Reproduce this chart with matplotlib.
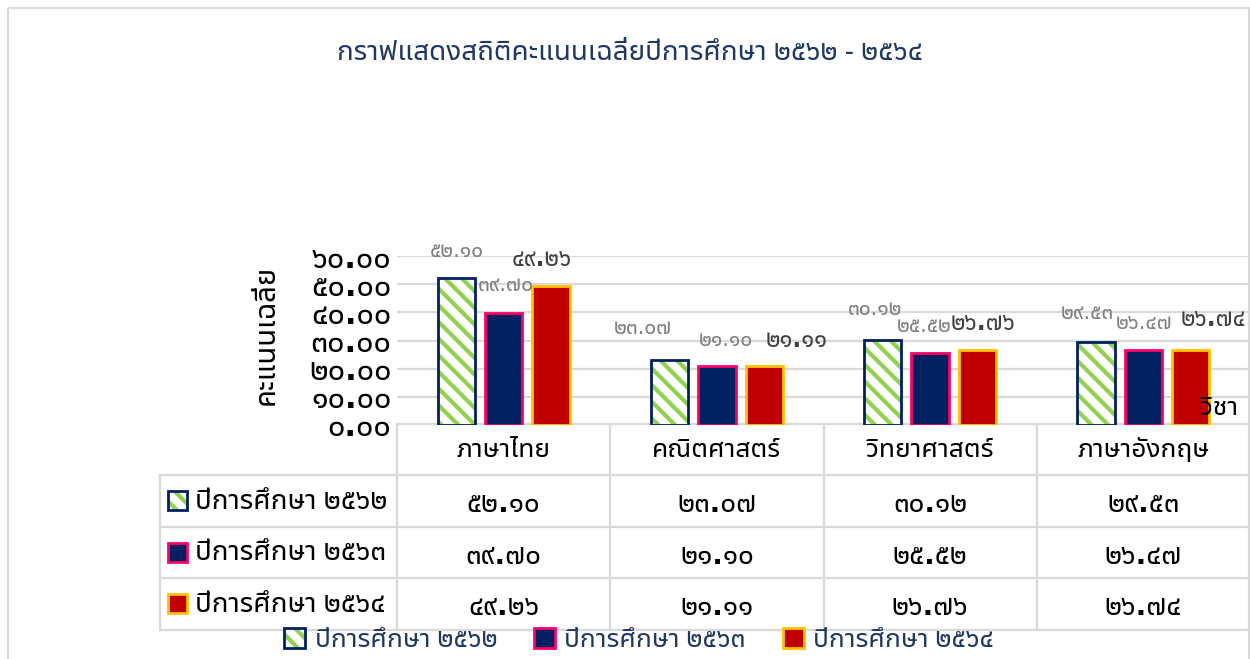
import matplotlib
matplotlib.use("Agg")
import matplotlib.pyplot as plt
from matplotlib.patches import Patch, Rectangle
import numpy as np

plt.rcParams['font.family'] = ['Noto Sans Thai UI', 'DejaVu Sans']
plt.rcParams['hatch.linewidth'] = 3.0

# subjects and yearly averages
subjects = ['ภาษาไทย', 'คณิตศาสตร์', 'วิทยาศาสตร์', 'ภาษาอังกฤษ']
years = ['ปีการศึกษา ๒๕๖๒', 'ปีการศึกษา ๒๕๖๓', 'ปีการศึกษา ๒๕๖๔']
score_2562 = [52.10, 23.07, 30.12, 29.53]
score_2563 = [39.70, 21.10, 25.52, 26.47]
score_2564 = [49.26, 21.11, 26.76, 26.74]
yticks = [0, 10, 20, 30, 40, 50, 60]

# data label nudges in pixels (dx, dy)
label_shift = [
    [(0, 27), (-27, 32), (-8, 31), (-9, 29)],
    [(2, 28), (9, 26), (-6, 27), (1, 27)],
    [(-9, 27), (32, 26), (6, 27), (23, 31)],
]

navy = '#002060'
green = '#92D050'
red = '#C00000'
pink = '#FF0066'
gold = '#FFC000'
grid_c = '#D9D9D9'
title_c = '#203864'
HATCH = '\\\\'

TH = str.maketrans('0123456789', '๐๑๒๓๔๕๖๗๘๙')


def thai(v):
    return ('%.2f' % v).translate(TH)


W, H = 1250, 659
fig = plt.figure(figsize=(W / 100, H / 100), dpi=100)

# overlay in pixel coordinates for border and data table
ov = fig.add_axes([0, 0, 1, 1])
ov.set_xlim(0, W)
ov.set_ylim(H, 0)
ov.axis('off')
ov.add_patch(Rectangle((8, 8), W - 9, H, fill=False, ec=grid_c, lw=1.5))

col_x = [397 + i * 213.25 for i in range(5)]
row_y = [424, 475, 527, 578, 630]
lw_t = 1.6
ov.plot([col_x[0], W], [row_y[0], row_y[0]], color=grid_c, lw=lw_t)
for y in row_y[1:]:
    ov.plot([160, W], [y, y], color=grid_c, lw=lw_t)
for x in col_x[:4]:
    ov.plot([x, x], [row_y[0], row_y[-1]], color=grid_c, lw=lw_t)
ov.plot([160, 160], [row_y[1], row_y[-1]], color=grid_c, lw=lw_t)
ov.plot([W - 1, W - 1], [row_y[0], row_y[-1]], color=grid_c, lw=lw_t)

for i, s in enumerate(subjects):
    cx = (col_x[i] + col_x[i + 1]) / 2
    ov.text(cx, 450, s, ha='center', va='center', fontsize=19, color='black')

series = [score_2562, score_2563, score_2564]
for r, vals in enumerate(series):
    cy = (row_y[r + 1] + row_y[r + 2]) / 2
    for i, v in enumerate(vals):
        cx = (col_x[i] + col_x[i + 1]) / 2
        ov.text(cx, cy + 3, thai(v), ha='center', va='center', fontsize=20,
                fontweight='bold', color='black')
    # legend key in the row header
    if r == 0:
        ov.add_patch(Rectangle((168, cy - 10), 19, 19, fc='white', ec=green, lw=0, hatch=HATCH))
        ov.add_patch(Rectangle((168, cy - 10), 19, 19, fill=False, ec=navy, lw=2))
    elif r == 1:
        ov.add_patch(Rectangle((168, cy - 10), 19, 19, fc=navy, ec=pink, lw=2))
    else:
        ov.add_patch(Rectangle((168, cy - 10), 19, 19, fc=red, ec=gold, lw=2))
    ov.text(195, cy, years[r], ha='left', va='center', fontsize=20, color='black')

# main chart
ax = fig.add_axes([397 / W, (H - 425) / H, 1 - 397 / W, (425 - 256) / H])
ax.set_facecolor('none')
x = np.arange(len(subjects))
bw = 0.175
off = 0.222
ax.bar(x - off, score_2562, bw, color='white', edgecolor=green, lw=0, hatch=HATCH, zorder=2)
ax.bar(x - off, score_2562, bw, fill=False, edgecolor=navy, lw=2, zorder=3)
ax.bar(x, score_2563, bw, color=navy, edgecolor=pink, lw=2, zorder=3)
ax.bar(x + off, score_2564, bw, color=red, edgecolor=gold, lw=2, zorder=3)

for r, vals in enumerate(series):
    for i, v in enumerate(vals):
        dx, dy = label_shift[r][i]
        xi = x[i] + (r - 1) * off
        if r < 2:
            ax.annotate(thai(v), (xi, v), xytext=(dx, dy), textcoords='offset pixels',
                        ha='center', va='center', fontsize=15, color='#7F7F7F',
                        annotation_clip=False)
        else:
            ax.annotate(thai(v), (xi, v), xytext=(dx, dy), textcoords='offset pixels',
                        ha='center', va='center', fontsize=17, fontweight='bold',
                        color='#404040', annotation_clip=False)

ax.set_xlim(-0.5, 3.5)
ax.set_ylim(0, 60)
ax.set_yticks(yticks)
ax.set_yticklabels([thai(v) for v in yticks], fontsize=22, fontweight='bold')
ax.set_xticks([])
ax.tick_params(axis='y', length=0, pad=4)
ax.grid(axis='y', color=grid_c, lw=1.6, zorder=0)
for sp in ax.spines.values():
    sp.set_visible(False)

fig.text(266 / W, 1 - 335 / H, 'คะแนนเฉลี่ย', rotation=90, ha='center', va='center',
         fontsize=21, fontweight='bold', color='black')
fig.text(1239 / W, 1 - 408 / H, 'วิชา', ha='right', va='center', fontsize=19, color='black')
fig.text(630 / W, 1 - 52 / H, 'กราฟแสดงสถิติคะแนนเฉลี่ยปีการศึกษา ๒๕๖๒ - ๒๕๖๔',
         ha='center', va='center', fontsize=20, color=title_c)

# legend under the table
h1 = (Patch(fc='white', ec=green, lw=0, hatch=HATCH), Patch(fill=False, ec=navy, lw=2))
h2 = Patch(fc=navy, ec=pink, lw=2)
h3 = Patch(fc=red, ec=gold, lw=2)
leg = fig.legend([h1, h2, h3], years, loc='center', bbox_to_anchor=(639 / W, 1 - 640 / H),
                 ncol=3, frameon=False, fontsize=19, handlelength=0.8, handleheight=0.8,
                 handletextpad=0.35, columnspacing=1.4, borderpad=0)
for t in leg.get_texts():
    t.set_color(title_c)

fig.savefig('out.png', dpi=100)
